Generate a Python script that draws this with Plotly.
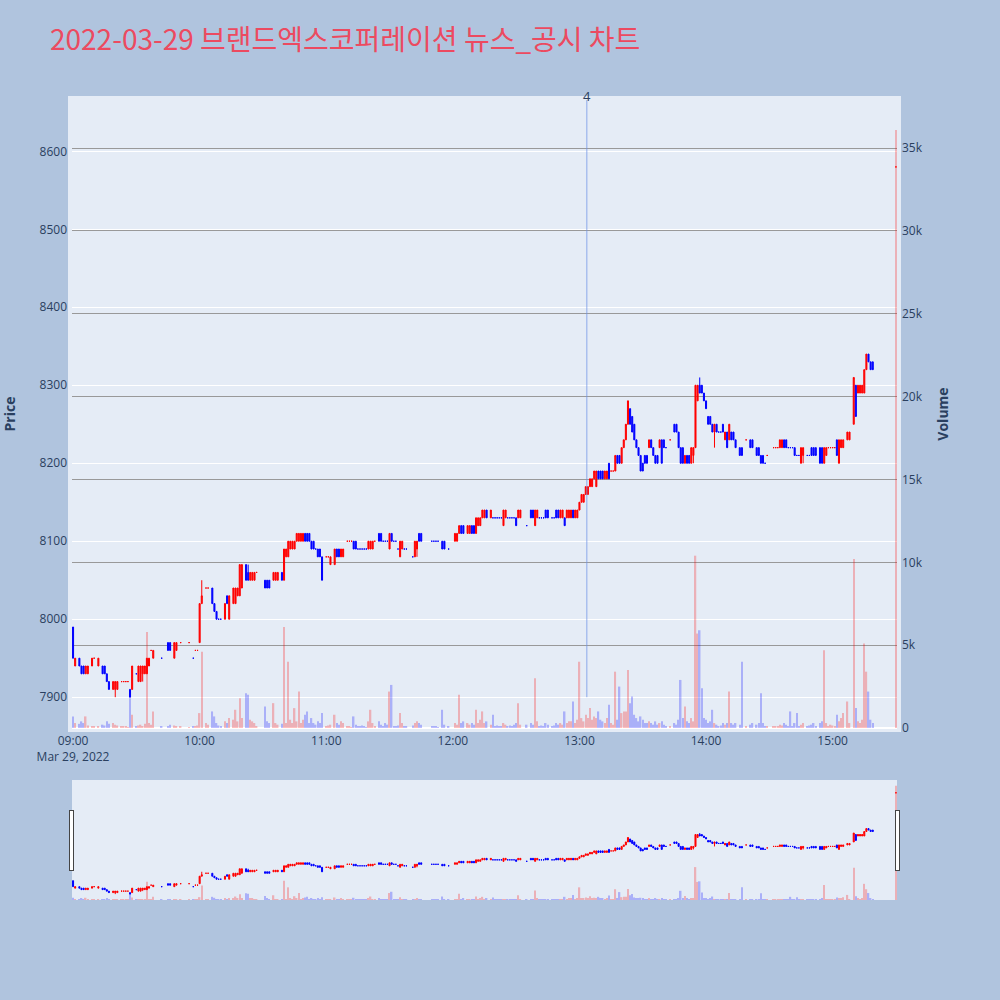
import plotly.graph_objects as go
from plotly.subplots import make_subplots

title_text = "2022-03-29 브랜드엑스코퍼레이션 뉴스_공시 차트"
trade_date = "2022-03-29"
news_time = "13:03:30"
news_label = "4"

times = ["09:00","09:01","09:03","09:04","09:05","09:06","09:07","09:09","09:10","09:12",
         "09:14","09:15","09:16","09:17","09:19","09:20","09:21","09:23","09:24","09:25",
         "09:26","09:27","09:28","09:30","09:31","09:32","09:33","09:34","09:35","09:36",
         "09:37","09:38","09:42","09:45","09:46","09:48","09:49","09:51","09:55","09:57",
         "09:58","09:59","10:00","10:01","10:03","10:04","10:06","10:07","10:08","10:09",
         "10:10","10:12","10:13","10:14","10:16","10:17","10:18","10:19","10:20","10:22",
         "10:23","10:24","10:25","10:26","10:27","10:31","10:32","10:33","10:35","10:36",
         "10:37","10:39","10:40","10:41","10:42","10:43","10:44","10:45","10:46","10:47",
         "10:48","10:49","10:50","10:51","10:52","10:53","10:54","10:55","10:56","10:57",
         "10:58","11:00","11:01","11:02","11:04","11:05","11:06","11:07","11:08","11:10",
         "11:11","11:12","11:13","11:14","11:15","11:16","11:17","11:18","11:19","11:20",
         "11:21","11:22","11:23","11:25","11:26","11:27","11:28","11:29","11:30","11:31",
         "11:32","11:33","11:34","11:35","11:36","11:37","11:38","11:41","11:42","11:43",
         "11:44","11:45","11:50","11:51","11:52","11:53","11:55","11:56","11:58","12:01",
         "12:02","12:03","12:04","12:05","12:07","12:08","12:09","12:10","12:11","12:12",
         "12:13","12:14","12:15","12:16","12:18","12:19","12:20","12:21","12:22","12:23",
         "12:24","12:25","12:26","12:27","12:28","12:29","12:30","12:31","12:32","12:35",
         "12:37","12:38","12:39","12:40","12:41","12:42","12:43","12:44","12:45","12:47",
         "12:48","12:49","12:50","12:51","12:52","12:53","12:54","12:55","12:56","12:57",
         "12:58","12:59","13:00","13:01","13:02","13:03","13:04","13:05","13:06","13:07",
         "13:08","13:09","13:10","13:11","13:12","13:13","13:14","13:15","13:16","13:17",
         "13:18","13:19","13:20","13:21","13:22","13:23","13:24","13:25","13:26","13:27",
         "13:28","13:29","13:30","13:31","13:32","13:33","13:34","13:35","13:36","13:37",
         "13:38","13:39","13:40","13:41","13:43","13:45","13:46","13:47","13:48","13:49",
         "13:50","13:51","13:52","13:53","13:54","13:55","13:56","13:57","13:58","13:59",
         "14:00","14:01","14:02","14:03","14:04","14:05","14:06","14:07","14:08","14:09",
         "14:10","14:11","14:12","14:13","14:14","14:16","14:17","14:19","14:21","14:22",
         "14:24","14:25","14:26","14:27","14:28","14:29","14:32","14:33","14:34","14:35",
         "14:36","14:37","14:38","14:39","14:40","14:41","14:42","14:43","14:44","14:45",
         "14:46","14:48","14:49","14:50","14:51","14:52","14:54","14:55","14:56","14:57",
         "14:58","14:59","15:00","15:01","15:02","15:03","15:04","15:05","15:07","15:08",
         "15:10","15:11","15:12","15:13","15:14","15:15","15:16","15:17","15:18","15:19",
         "15:30"]

opens = [7990,7940,7950,7940,7940,7930,7930,7940,7950,7940,
         7940,7940,7930,7920,7910,7910,7910,7920,7920,7920,
         7920,7910,7910,7930,7920,7920,7930,7930,7930,7940,
         7960,7950,7950,7970,7970,7950,7960,7970,7970,7950,
         7960,7960,7970,8020,8040,8040,8040,8020,8010,8000,
         8000,8000,8030,8000,8020,8020,8030,8030,8040,8070,
         8060,8050,8050,8050,8060,8050,8050,8050,8050,8050,
         8050,8060,8050,8080,8080,8090,8090,8090,8100,8100,
         8100,8100,8110,8110,8110,8100,8100,8090,8090,8090,
         8080,8080,8080,8070,8070,8090,8090,8080,8080,8100,
         8100,8100,8100,8100,8090,8090,8090,8090,8090,8090,
         8090,8090,8100,8110,8110,8100,8100,8100,8090,8110,
         8100,8100,8090,8080,8090,8090,8090,8080,8080,8090,
         8110,8110,8100,8100,8100,8100,8100,8100,8090,8100,
         8100,8110,8120,8120,8110,8110,8120,8120,8110,8120,
         8120,8130,8130,8140,8130,8130,8130,8130,8130,8130,
         8120,8130,8130,8130,8130,8130,8130,8130,8130,8120,
         8140,8140,8120,8130,8130,8130,8130,8140,8140,8130,
         8130,8140,8140,8130,8130,8130,8130,8130,8130,8140,
         8130,8130,8140,8150,8150,8160,8160,8170,8170,8180,
         8170,8190,8190,8190,8180,8180,8200,8190,8190,8190,
         8210,8210,8200,8220,8230,8250,8270,8260,8250,8230,
         8220,8210,8200,8210,8210,8220,8230,8220,8210,8210,
         8220,8230,8230,8220,8230,8250,8250,8240,8220,8220,
         8200,8210,8210,8200,8210,8220,8280,8300,8300,8290,
         8280,8260,8260,8250,8240,8250,8240,8240,8250,8230,
         8240,8230,8240,8240,8230,8220,8220,8230,8230,8230,
         8220,8220,8210,8210,8200,8210,8220,8220,8220,8220,
         8220,8230,8230,8220,8220,8220,8220,8210,8210,8200,
         8210,8210,8210,8220,8220,8220,8220,8220,8200,8210,
         8220,8220,8220,8220,8230,8200,8220,8220,8230,8230,
         8250,8300,8290,8290,8290,8290,8320,8340,8330,8330,
         8580]

highs = [7990,7950,7950,7940,7940,7940,7940,7950,7950,7950,
         7940,7940,7930,7920,7920,7920,7920,7920,7920,7920,
         7920,7910,7940,7930,7940,7940,7940,7940,7950,7950,
         7960,7960,7950,7970,7970,7970,7970,7970,7970,7950,
         7960,7960,8020,8050,8040,8040,8040,8020,8010,8000,
         8000,8020,8030,8030,8040,8040,8040,8070,8070,8070,
         8070,8060,8060,8060,8060,8050,8050,8050,8060,8060,
         8060,8060,8090,8090,8100,8100,8100,8100,8110,8110,
         8110,8110,8110,8110,8110,8100,8100,8090,8090,8090,
         8080,8080,8080,8080,8090,8090,8090,8090,8090,8100,
         8100,8100,8100,8100,8090,8090,8090,8090,8090,8100,
         8100,8100,8100,8110,8110,8100,8100,8100,8110,8110,
         8100,8100,8090,8100,8100,8090,8090,8080,8100,8100,
         8110,8110,8100,8100,8100,8100,8100,8100,8090,8110,
         8110,8120,8120,8120,8120,8120,8120,8120,8130,8130,
         8130,8140,8140,8140,8140,8130,8130,8130,8130,8130,
         8140,8140,8130,8130,8130,8130,8130,8140,8140,8120,
         8140,8140,8140,8140,8130,8130,8130,8140,8140,8130,
         8130,8140,8140,8140,8140,8130,8140,8140,8140,8140,
         8140,8140,8150,8160,8160,8170,8170,8180,8180,8190,
         8190,8190,8190,8190,8190,8190,8200,8190,8190,8210,
         8210,8210,8220,8230,8250,8280,8270,8260,8250,8230,
         8220,8210,8200,8210,8210,8230,8230,8220,8210,8210,
         8230,8230,8230,8220,8230,8250,8250,8240,8220,8220,
         8210,8210,8210,8220,8220,8300,8300,8310,8300,8290,
         8280,8260,8260,8250,8250,8250,8240,8240,8250,8240,
         8240,8250,8240,8240,8230,8220,8220,8230,8230,8230,
         8220,8220,8210,8210,8200,8210,8220,8220,8220,8230,
         8230,8230,8230,8220,8220,8220,8220,8210,8210,8220,
         8220,8210,8210,8220,8220,8220,8220,8220,8220,8220,
         8220,8220,8220,8220,8230,8230,8230,8230,8240,8240,
         8310,8300,8300,8300,8300,8320,8340,8340,8330,8330,
         8580]

lows = [7950,7940,7940,7930,7930,7930,7930,7940,7950,7940,
        7930,7930,7920,7910,7910,7900,7910,7920,7920,7920,
        7920,7900,7910,7930,7920,7920,7920,7930,7930,7940,
        7960,7950,7950,7960,7960,7950,7960,7970,7970,7950,
        7960,7960,7970,8020,8040,8040,8020,8010,8000,8000,
        8000,8000,8020,8000,8020,8020,8030,8030,8040,8050,
        8050,8050,8050,8050,8060,8040,8040,8040,8050,8050,
        8050,8050,8050,8080,8080,8090,8090,8090,8100,8100,
        8100,8100,8100,8100,8100,8090,8090,8090,8080,8080,
        8050,8080,8080,8070,8070,8080,8080,8080,8080,8100,
        8100,8100,8090,8090,8090,8090,8090,8090,8090,8090,
        8090,8090,8100,8100,8100,8100,8100,8100,8090,8100,
        8100,8100,8090,8080,8090,8090,8090,8080,8080,8080,
        8100,8100,8100,8100,8100,8100,8090,8090,8090,8100,
        8100,8110,8110,8110,8110,8110,8110,8110,8110,8120,
        8120,8130,8130,8130,8130,8130,8130,8130,8130,8130,
        8120,8130,8130,8130,8130,8130,8120,8130,8130,8120,
        8130,8130,8120,8130,8130,8130,8130,8130,8130,8130,
        8130,8130,8130,8130,8130,8120,8130,8130,8130,8130,
        8130,8130,8140,8150,8150,8160,8160,8170,8170,8180,
        8170,8180,8180,8180,8180,8180,8180,8190,8190,8190,
        8200,8200,8200,8220,8230,8250,8250,8240,8230,8220,
        8210,8190,8190,8200,8200,8220,8220,8210,8200,8200,
        8220,8200,8220,8220,8230,8240,8240,8220,8200,8200,
        8200,8200,8200,8200,8200,8220,8280,8290,8290,8280,
        8270,8250,8250,8240,8220,8240,8240,8240,8240,8230,
        8220,8230,8230,8230,8220,8210,8210,8230,8220,8220,
        8210,8210,8200,8200,8200,8210,8220,8220,8220,8220,
        8220,8220,8220,8220,8220,8220,8210,8210,8210,8200,
        8200,8210,8210,8210,8210,8210,8200,8200,8200,8210,
        8220,8220,8220,8220,8210,8200,8220,8220,8230,8230,
        8250,8260,8290,8290,8290,8290,8320,8330,8320,8320,
        8580]

closes = [7950,7950,7940,7930,7930,7940,7940,7950,7950,7950,
          7930,7930,7920,7910,7920,7920,7920,7920,7920,7920,
          7920,7900,7940,7930,7940,7940,7940,7940,7950,7950,
          7960,7960,7950,7960,7960,7970,7970,7970,7970,7950,
          7960,7960,8020,8030,8040,8040,8020,8010,8000,8000,
          8000,8020,8020,8030,8040,8040,8040,8070,8070,8050,
          8050,8060,8060,8060,8060,8040,8040,8040,8060,8060,
          8060,8050,8090,8090,8100,8100,8100,8100,8110,8110,
          8110,8110,8100,8100,8100,8090,8090,8090,8080,8080,
          8050,8080,8080,8080,8090,8080,8080,8090,8090,8100,
          8100,8100,8090,8090,8090,8090,8090,8090,8090,8100,
          8100,8100,8100,8100,8100,8100,8100,8100,8110,8100,
          8100,8100,8090,8100,8100,8090,8090,8080,8100,8100,
          8100,8100,8100,8100,8100,8100,8090,8090,8090,8110,
          8110,8120,8110,8110,8120,8120,8110,8110,8130,8130,
          8130,8140,8140,8130,8140,8130,8130,8130,8130,8130,
          8140,8140,8130,8130,8130,8130,8120,8140,8140,8120,
          8130,8130,8140,8140,8130,8130,8130,8130,8130,8130,
          8130,8130,8130,8140,8140,8120,8140,8140,8140,8130,
          8140,8140,8150,8160,8160,8170,8170,8180,8180,8190,
          8190,8180,8180,8180,8190,8190,8180,8190,8190,8210,
          8200,8200,8220,8230,8250,8280,8250,8240,8230,8220,
          8210,8190,8190,8200,8200,8230,8220,8210,8200,8200,
          8230,8200,8220,8220,8230,8240,8240,8220,8200,8200,
          8210,8200,8200,8220,8220,8300,8300,8290,8290,8280,
          8270,8250,8250,8240,8250,8240,8240,8240,8240,8240,
          8220,8250,8230,8230,8220,8210,8210,8230,8220,8220,
          8210,8210,8200,8200,8200,8210,8220,8220,8220,8230,
          8230,8220,8220,8220,8220,8220,8210,8210,8210,8220,
          8220,8210,8210,8210,8210,8210,8200,8200,8220,8220,
          8220,8220,8220,8220,8210,8230,8230,8230,8240,8240,
          8310,8260,8300,8300,8300,8320,8340,8330,8320,8320,
          8580]

volumes = [700,300,250,400,300,700,150,100,80,120,
           200,150,400,250,300,200,150,100,80,100,
           60,1800,800,100,150,200,120,250,5800,300,
           200,1000,100,120,200,150,100,80,60,100,
           120,150,900,4600,300,200,1000,700,300,150,
           100,400,300,600,500,1100,400,1800,600,2100,
           2000,500,400,300,100,1300,400,300,1500,300,
           200,250,6100,300,4000,500,300,1200,400,2200,
           300,500,800,1000,300,600,300,200,400,300,
           900,100,150,200,800,300,200,400,300,100,
           80,60,700,200,100,80,150,100,60,400,
           1100,300,100,400,200,100,300,200,2200,2600,
           100,80,150,900,300,100,100,150,300,400,
           300,200,100,80,100,60,1100,200,100,300,
           200,2000,300,400,300,200,300,200,1100,300,
           500,1000,300,400,200,800,100,150,100,80,
           300,200,100,150,100,200,300,1500,200,200,
           300,200,3000,400,100,150,100,300,200,100,
           150,300,200,300,200,1000,300,400,400,1600,
           300,500,4000,600,400,800,600,1200,500,700,
           600,1000,500,400,300,600,1400,300,200,3400,
           500,2500,900,1000,1000,3500,1500,1900,800,600,
           400,700,500,300,300,400,300,200,400,200,
           300,400,200,100,100,300,200,500,2900,600,
           1300,400,300,600,400,10400,5700,5900,2400,600,
           500,300,400,1100,300,200,100,150,300,200,
           300,2200,300,200,300,200,4000,100,200,300,
           200,300,2100,300,100,100,100,80,100,200,
           150,300,200,100,1000,100,300,900,100,200,
           300,100,150,200,300,100,300,400,4700,300,
           100,200,150,100,800,400,600,900,1600,300,
           10200,1200,400,300,500,5100,3400,2200,500,300,
           36100]

x = [f"{trade_date} {t}" for t in times]

# direction like plotly's candlestick (flat bars use previous close)
up_color, down_color = "#FF0000", "#0000FF"
vol_colors = []
prev_c, inc = None, True
for o, c in zip(opens, closes):
    if c > o:
        inc = True
    elif c < o:
        inc = False
    elif prev_c is not None and c != prev_c:
        inc = c > prev_c
    vol_colors.append(up_color if inc else down_color)
    prev_c = c

fig = make_subplots(specs=[[{"secondary_y": True}]])

fig.add_trace(go.Candlestick(
    x=x, open=opens, high=highs, low=lows, close=closes,
    increasing=dict(line=dict(color=up_color, width=1), fillcolor=up_color),
    decreasing=dict(line=dict(color=down_color, width=1), fillcolor=down_color),
    name="Price", showlegend=False), secondary_y=False)

fig.add_trace(go.Bar(
    x=x, y=volumes, marker=dict(color=vol_colors, line=dict(width=0)),
    opacity=0.25, name="Volume", showlegend=False), secondary_y=True)

y_lo = min(lows) * 0.995
y_hi = max(highs) * 1.01
v_hi = max(volumes) * 1.05

news_x = f"{trade_date} {news_time}"
fig.add_shape(type="line", xref="x", yref="y", x0=news_x, x1=news_x,
              y0=min(lows), y1=y_hi, line=dict(color="rgba(110,145,230,0.75)", width=1))
fig.add_annotation(x=news_x, xref="x", y=1, yref="paper", yanchor="bottom", yshift=-7,
                   text=news_label, showarrow=False,
                   font=dict(size=13, color="#2a3f5f"))

fig.update_layout(
    width=1000, height=1000,
    title=dict(text=title_text, x=0.05, y=0.96, yanchor="middle",
               font=dict(size=28, color="#EC4A60", family="Noto Sans CJK KR")),
    paper_bgcolor="#B0C4DE",
    plot_bgcolor="#E5ECF6",
    margin=dict(l=72, r=103, t=100, b=100, pad=4),
    showlegend=False,
    bargap=0.3,
)
fig.update_xaxes(showgrid=False, automargin=False, domain=[0, 1],
                 range=[f"{trade_date} 08:59:30", f"{trade_date} 15:30:30"],
                 rangeslider=dict(visible=True, bgcolor="#E5ECF6"))
fig.update_yaxes(title_text="<b>Price</b>", range=[y_lo, y_hi], showgrid=True,
                 gridcolor="white", automargin=False, title_standoff=24,
                 secondary_y=False)
fig.update_yaxes(title_text="<b>Volume</b>", range=[0, v_hi], showgrid=True,
                 gridcolor="#999999", gridwidth=1, automargin=False, title_standoff=20,
                 secondary_y=True)

fig.write_html("out.html", config={"displayModeBar": False},
               post_script="document.body.style.margin='0';")
